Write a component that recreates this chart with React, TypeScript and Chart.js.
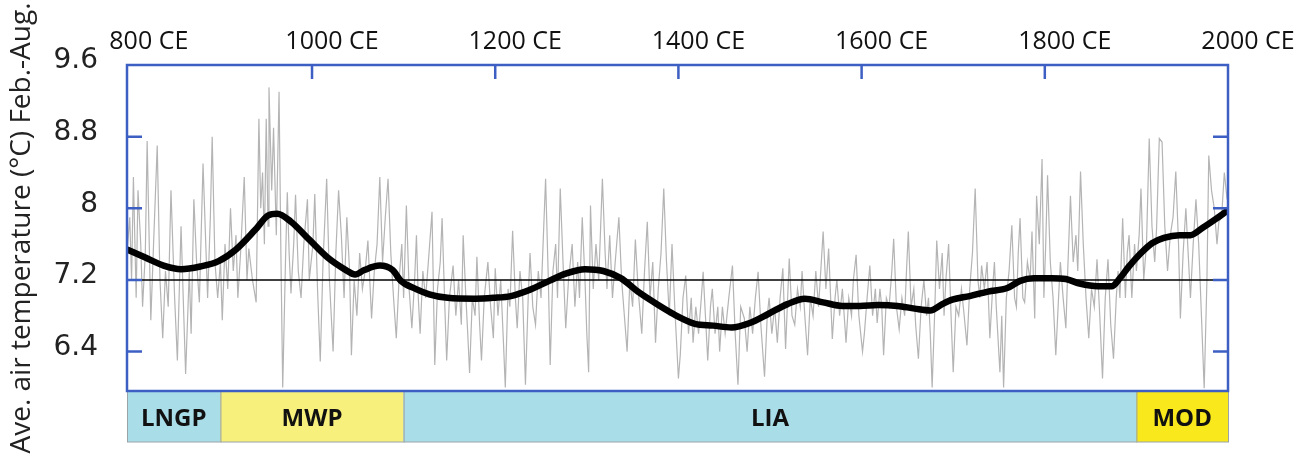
import React, { useEffect, useRef } from "react";
import { Chart, registerables } from "chart.js";

Chart.register(...registerables);

// ---------- data ----------
const xMin = 798;
const xMax = 2000;
const yMin = 5.96;
const yMax = 9.6;
const xTickValues = [800, 1000, 1200, 1400, 1600, 1800, 2000];
const xTickMarks = [1000, 1200, 1400, 1600, 1800];
const yTickValues = [9.6, 8.8, 8, 7.2, 6.4];
const yTickMarks = [8.8, 8, 7.2, 6.4];
const referenceTemp = 7.2;

const periodNames = ["LNGP", "MWP", "LIA", "MOD"];
const periodStart = [798, 900, 1100, 1900];
const periodEnd = [900, 1100, 1900, 2000];

// annual reconstruction (thin grey line), [year, °C]
const rawSeries: [number, number][] = [
  [798, 7.5], [801, 7.9], [803, 7.2], [805, 8.35], [808, 7.0], [810, 8.2], [813, 7.6], [815, 6.9], [818, 7.5],
  [820, 8.75], [824, 6.75], [827, 7.6], [831, 8.7], [834, 7.2], [837, 6.55], [840, 7.3], [843, 6.9], [846, 8.2],
  [850, 7.0], [853, 6.3], [857, 7.8], [860, 6.8], [862, 6.15], [866, 7.3], [868, 6.6], [871, 8.1], [874, 7.4],
  [877, 6.95], [881, 8.5], [884, 7.6], [886, 7.0], [889, 7.9], [891, 8.8], [894, 7.4], [897, 7.0], [900, 7.4],
  [902, 6.75], [905, 7.6], [908, 7.1], [911, 8.0], [914, 7.3], [917, 7.7], [919, 7.0], [922, 7.5], [926, 8.35],
  [929, 7.2], [931, 7.55], [935, 7.2], [939, 6.95], [942, 9.0], [944, 8.0], [946, 8.4], [948, 7.6], [950, 9.0],
  [952, 7.8], [953, 9.35], [956, 8.2], [958, 8.9], [961, 7.7], [964, 9.3], [966, 7.5], [968, 6.0], [971, 7.4],
  [973, 8.18], [975, 7.5], [977, 7.05], [980, 7.6], [982, 8.15], [985, 7.3], [988, 7.0], [991, 7.6], [995, 8.1],
  [997, 7.2], [999, 7.4],
  [1001, 7.6], [1003, 8.16], [1006, 7.1], [1009, 6.29], [1012, 7.4], [1016, 8.33], [1019, 7.2], [1023, 6.4],
  [1026, 7.5], [1029, 8.2], [1032, 7.7], [1035, 7.0], [1038, 7.9], [1041, 7.3], [1043, 6.36], [1046, 7.2],
  [1049, 6.8], [1052, 7.5], [1055, 7.1], [1058, 7.3], [1061, 7.64], [1065, 6.77], [1068, 7.3], [1071, 7.6],
  [1074, 8.35], [1077, 7.4], [1080, 7.9], [1083, 8.33], [1086, 7.5], [1089, 7.0], [1092, 6.55], [1095, 7.2],
  [1098, 7.6], [1100, 7.0], [1103, 8.03], [1106, 7.1], [1109, 6.66], [1112, 7.2], [1114, 7.7], [1116, 7.0],
  [1118, 6.6], [1121, 7.3], [1124, 7.0], [1127, 7.4], [1131, 7.96], [1134, 6.25], [1137, 7.1], [1140, 7.4],
  [1142, 7.89], [1145, 6.9], [1147, 6.3], [1150, 7.0], [1154, 7.36], [1157, 6.8], [1160, 7.2], [1163, 6.7],
  [1165, 7.7], [1168, 7.0], [1170, 6.6], [1172, 6.16], [1175, 7.0], [1178, 6.8], [1180, 7.46], [1183, 6.7],
  [1185, 6.3], [1188, 7.0], [1192, 7.4], [1195, 6.9], [1198, 6.55],
  [1200, 7.33], [1203, 6.8], [1206, 7.2], [1209, 6.5], [1211, 6.0], [1214, 7.1], [1216, 6.9], [1219, 7.75],
  [1222, 7.0], [1224, 6.66], [1227, 7.3], [1230, 7.0], [1233, 6.03], [1236, 7.0], [1238, 7.5], [1241, 6.9],
  [1244, 6.7], [1247, 7.3], [1250, 7.0], [1253, 7.8], [1255, 8.33], [1258, 7.2], [1260, 6.25], [1263, 7.3],
  [1266, 7.6], [1268, 7.0], [1271, 8.22], [1274, 7.4], [1277, 6.66], [1280, 7.2], [1284, 7.6], [1287, 6.9],
  [1290, 7.4], [1292, 7.0], [1295, 7.9], [1298, 7.2], [1300, 6.6], [1302, 6.17], [1304, 8.03], [1307, 7.1],
  [1310, 7.6], [1313, 7.2], [1317, 8.33], [1320, 7.5], [1322, 7.1], [1325, 7.7], [1328, 7.0], [1331, 7.4],
  [1335, 7.9], [1338, 7.2], [1341, 6.8], [1344, 6.4], [1347, 7.2], [1350, 6.9], [1353, 7.65], [1356, 7.1],
  [1360, 6.6], [1363, 7.3], [1366, 7.85], [1369, 7.0], [1372, 7.4], [1375, 6.5], [1378, 7.1], [1381, 7.5],
  [1384, 8.22], [1387, 7.4], [1390, 6.8], [1393, 7.6], [1396, 6.9], [1400, 6.1],
  [1402, 6.36], [1405, 7.0], [1408, 7.25], [1411, 6.6], [1414, 7.0], [1416, 6.5], [1419, 6.9], [1422, 6.6],
  [1425, 7.0], [1427, 7.29], [1430, 6.7], [1432, 6.3], [1435, 6.9], [1437, 7.1], [1440, 6.6], [1443, 6.9],
  [1445, 6.4], [1448, 6.9], [1451, 6.6], [1455, 7.0], [1459, 7.36], [1462, 6.6], [1465, 6.03], [1468, 6.9],
  [1472, 6.77], [1475, 6.4], [1478, 6.9], [1481, 6.6], [1484, 7.0], [1487, 7.29], [1490, 6.7], [1494, 6.12],
  [1497, 6.8], [1499, 7.0], [1502, 6.6], [1505, 6.9], [1508, 6.5], [1511, 7.0], [1514, 7.33], [1517, 6.43],
  [1521, 7.44], [1524, 6.8], [1527, 6.7], [1530, 7.1], [1533, 6.9], [1535, 7.3], [1538, 6.8], [1541, 6.36],
  [1544, 7.0], [1547, 6.8], [1550, 7.3], [1553, 6.9], [1556, 7.4], [1558, 7.74], [1561, 7.1], [1564, 7.55],
  [1568, 6.54], [1571, 7.0], [1573, 7.2], [1576, 6.8], [1579, 7.1], [1583, 6.5], [1586, 7.0], [1589, 6.8],
  [1591, 7.2], [1594, 7.48], [1597, 6.8], [1601, 6.4],
  [1603, 6.6], [1606, 7.0], [1609, 7.36], [1612, 6.8], [1615, 7.1], [1617, 6.72], [1620, 7.1], [1622, 6.9],
  [1624, 6.36], [1627, 7.0], [1630, 6.9], [1633, 7.3], [1635, 7.66], [1638, 6.9], [1641, 6.65], [1644, 7.0],
  [1647, 6.8], [1649, 7.3], [1651, 7.74], [1654, 6.9], [1657, 7.1], [1659, 6.7], [1662, 6.32], [1665, 6.9],
  [1668, 7.2], [1671, 6.8], [1673, 7.0], [1675, 6.6], [1677, 6.0], [1680, 6.9], [1682, 7.64], [1685, 7.1],
  [1688, 7.5], [1690, 6.8], [1692, 7.2], [1695, 7.6], [1698, 6.7], [1700, 6.17], [1703, 6.9], [1706, 6.8],
  [1709, 7.1], [1712, 6.8], [1715, 6.47], [1718, 7.1], [1721, 7.5], [1724, 8.22], [1727, 7.2], [1729, 7.0],
  [1731, 7.36], [1734, 7.1], [1737, 7.4], [1740, 6.55], [1743, 7.1], [1745, 7.4], [1747, 6.9], [1751, 6.17],
  [1753, 6.8], [1755, 6.0], [1758, 7.0], [1761, 7.3], [1764, 7.81], [1767, 7.0], [1769, 6.9], [1771, 7.5],
  [1773, 7.89], [1776, 7.0], [1778, 6.95], [1781, 7.4], [1784, 7.2], [1786, 7.74], [1789, 6.77], [1791, 8.14],
  [1794, 7.6], [1797, 8.55], [1799, 7.0],
  [1801, 7.6], [1803, 8.37], [1806, 7.4], [1809, 7.0], [1812, 6.36], [1815, 7.0], [1817, 7.4], [1820, 7.0],
  [1823, 6.66], [1825, 7.3], [1828, 8.14], [1831, 7.4], [1834, 7.7], [1836, 7.3], [1839, 8.41], [1842, 7.6],
  [1845, 7.0], [1848, 6.55], [1851, 7.1], [1854, 6.9], [1857, 7.43], [1860, 6.8], [1863, 6.1], [1866, 7.0],
  [1869, 7.43], [1872, 6.7], [1875, 6.32], [1878, 7.0], [1880, 7.3], [1882, 7.0], [1885, 7.89], [1888, 7.0],
  [1890, 7.5], [1892, 7.7], [1895, 7.0], [1898, 7.6], [1900, 7.3], [1903, 7.7], [1905, 8.22], [1908, 7.2],
  [1911, 7.6], [1914, 8.78], [1917, 7.8], [1920, 7.4], [1922, 7.77], [1925, 8.78], [1928, 8.74], [1931, 7.8],
  [1934, 7.3], [1937, 7.7], [1940, 7.9], [1943, 8.41], [1946, 7.6], [1948, 6.77], [1951, 7.5], [1954, 8.0],
  [1957, 7.4], [1959, 7.0], [1962, 7.6], [1965, 8.1], [1968, 7.6], [1971, 6.8], [1974, 5.99], [1977, 7.2],
  [1979, 8.59], [1982, 8.2], [1985, 8.0], [1988, 7.6], [1990, 7.85], [1993, 7.9], [1996, 8.4], [1999, 8.1],
];

// smoothed curve (thick black line), [year, °C]
const smoothSeries: [number, number][] = [
  [798, 7.54], [818, 7.45], [838, 7.36], [857, 7.32], [878, 7.35], [898, 7.41], [917, 7.54], [938, 7.76],
  [952, 7.92], [962, 7.94], [977, 7.85], [997, 7.65], [1017, 7.45], [1037, 7.31], [1047, 7.26], [1057, 7.31],
  [1074, 7.36], [1088, 7.31], [1097, 7.19], [1113, 7.1], [1128, 7.04], [1148, 7.0], [1178, 6.99], [1198, 7.0],
  [1217, 7.02], [1238, 7.09], [1259, 7.19], [1277, 7.27], [1298, 7.32], [1318, 7.3], [1337, 7.22], [1357, 7.06],
  [1378, 6.92], [1398, 6.8], [1418, 6.71], [1438, 6.69], [1458, 6.67], [1478, 6.72], [1498, 6.82], [1519, 6.93],
  [1538, 6.99], [1558, 6.95], [1579, 6.91], [1598, 6.91], [1618, 6.92], [1639, 6.91], [1658, 6.88], [1675, 6.86],
  [1688, 6.93], [1699, 6.98], [1718, 7.02], [1738, 7.07], [1759, 7.11], [1773, 7.19], [1788, 7.22], [1808, 7.22],
  [1823, 7.21], [1838, 7.16], [1858, 7.13], [1873, 7.13], [1882, 7.22], [1891, 7.34], [1905, 7.5], [1917, 7.61],
  [1930, 7.67], [1947, 7.7], [1959, 7.7], [1972, 7.78], [1988, 7.89], [2000, 7.98],
];

// ---------- styles ----------
const AXIS_BLUE = "#3d5fc4";
const periodFill = ["#a9dde8", "#f7f07c", "#a9dde8", "#f8e81c"];

const overlayPlugin = {
  id: "overlay",
  afterDatasetsDraw(chart: any) {
    const { ctx, chartArea: a, scales } = chart;
    const xs = scales.x;
    const ys = scales.y;
    ctx.save();
    // period boxes under the plot
    const top = a.bottom;
    const h = 51;
    periodNames.forEach((name, i) => {
      const x0 = xs.getPixelForValue(periodStart[i]);
      const x1 = xs.getPixelForValue(periodEnd[i]);
      ctx.fillStyle = periodFill[i];
      ctx.fillRect(x0, top, x1 - x0, h);
      ctx.strokeStyle = "#9aa4a8";
      ctx.lineWidth = 1;
      ctx.strokeRect(x0 + 0.5, top, x1 - x0, h);
      ctx.fillStyle = "#111";
      ctx.font = "bold 24px 'Open Sans'";
      ctx.textAlign = "center";
      ctx.textBaseline = "middle";
      ctx.fillText(name, (x0 + x1) / 2, top + h / 2 + 3);
    });
    // frame
    ctx.strokeStyle = AXIS_BLUE;
    ctx.lineWidth = 2.5;
    ctx.strokeRect(a.left, a.top, a.right - a.left, a.bottom - a.top);
    // inward tick marks
    ctx.beginPath();
    xTickMarks.forEach((v) => {
      const px = xs.getPixelForValue(v);
      ctx.moveTo(px, a.top);
      ctx.lineTo(px, a.top + 14);
    });
    yTickMarks.forEach((v) => {
      const py = ys.getPixelForValue(v);
      ctx.moveTo(a.left, py);
      ctx.lineTo(a.left + 15, py);
      ctx.moveTo(a.right - 15, py);
      ctx.lineTo(a.right, py);
    });
    ctx.stroke();
    ctx.restore();
  },
};

export default function App() {
  const ref = useRef<HTMLCanvasElement | null>(null);

  useEffect(() => {
    if (!ref.current) return;
    const chart = new Chart(ref.current, {
      type: "line",
      data: {
        datasets: [
          {
            label: "smoothed",
            data: smoothSeries.map(([x, y]) => ({ x, y })),
            borderColor: "#000",
            borderWidth: 6.5,
            pointRadius: 0,
            cubicInterpolationMode: "monotone",
            order: 0,
          },
          {
            label: "reference",
            data: [
              { x: xMin, y: referenceTemp },
              { x: xMax, y: referenceTemp },
            ],
            borderColor: "#000",
            borderWidth: 1.6,
            pointRadius: 0,
            order: 1,
          },
          {
            label: "annual",
            data: rawSeries.map(([x, y]) => ({ x, y })),
            borderColor: "#b4b4b4",
            borderWidth: 1.2,
            pointRadius: 0,
            tension: 0,
            order: 2,
          },
        ],
      },
      options: {
        animation: false,
        responsive: true,
        maintainAspectRatio: false,
        layout: { padding: { left: 0, right: 74, top: 0, bottom: 68 } },
        plugins: { legend: { display: false }, tooltip: { enabled: false } },
        scales: {
          x: {
            type: "linear",
            position: "top",
            min: xMin,
            max: xMax,
            afterBuildTicks: (s: any) => {
              s.ticks = xTickValues.map((value) => ({ value }));
            },
            afterFit: (s: any) => {
              s.height = 65;
            },
            grid: { display: false, drawTicks: false },
            border: { display: false },
            ticks: {
              color: "#111",
              font: { family: "'Open Sans'", size: 25 },
              padding: 8,
              labelOffset: 20,
              maxRotation: 0,
              autoSkip: false,
              callback: (v: any) => `${v} CE`,
            },
          },
          y: {
            type: "linear",
            min: yMin,
            max: yMax,
            afterBuildTicks: (s: any) => {
              s.ticks = yTickValues.map((value) => ({ value }));
            },
            afterFit: (s: any) => {
              s.width = 127;
            },
            grid: { display: false, drawTicks: false },
            border: { display: false },
            ticks: {
              color: "#222",
              font: { family: "'DejaVu Sans'", size: 28 },
              padding: 29,
              labelOffset: -4,
              autoSkip: false,
              callback: (v: any) => `${Math.round(v * 10) / 10}`,
            },
            title: {
              display: true,
              text: "Ave. air temperature (°C) Feb.-Aug.",
              color: "#222",
              font: { family: "'Open Sans'", size: 28 },
              padding: { top: 5, bottom: 0 },
            },
          },
        },
      },
      plugins: [overlayPlugin],
    });
    return () => chart.destroy();
  }, []);

  return (
    <div
      style={{
        position: "fixed",
        left: 0,
        top: 0,
        width: 1302,
        height: 459,
        background: "#fff",
      }}
    >
      <canvas ref={ref} />
    </div>
  );
}
